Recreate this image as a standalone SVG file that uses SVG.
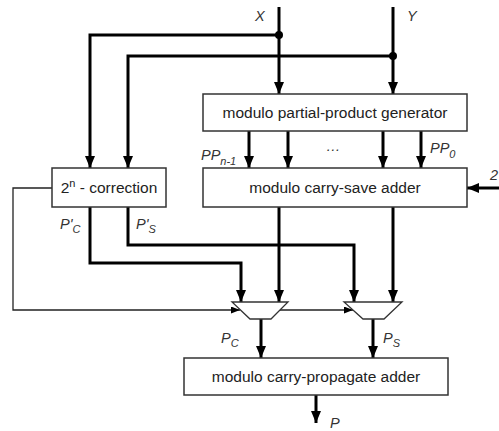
<svg xmlns="http://www.w3.org/2000/svg" width="499" height="431" viewBox="0 0 499 431">
<defs>
<style>
.box{fill:#fff;stroke:#333;stroke-width:1.5}
.w{fill:none;stroke:#000;stroke-width:3}
.t{fill:none;stroke:#222;stroke-width:1.3}
.mux{fill:#fff;stroke:#333;stroke-width:1.3}
.lbl{font-family:"Liberation Sans",Arial,sans-serif;font-size:15.5px;fill:#222;text-anchor:middle}
.it{font-family:"Liberation Sans",Arial,sans-serif;font-size:14.5px;font-style:italic;fill:#333}
.sub{font-size:11px}
</style>
<marker id="ah" markerUnits="userSpaceOnUse" viewBox="0 0 12 10" refX="12" refY="5" markerWidth="12" markerHeight="10" orient="auto"><path d="M0,0L12,5L0,10z" fill="#000"/></marker>
<marker id="as" markerUnits="userSpaceOnUse" viewBox="0 0 9 7" refX="9" refY="3.5" markerWidth="9" markerHeight="7" orient="auto"><path d="M0,0L9,3.5L0,7z" fill="#000"/></marker>
</defs>
<rect width="499" height="431" fill="#fff"/>
<g id="connectors">
<path class="w" d="M279,7V94" marker-end="url(#ah)"/>
<path class="w" d="M393,7V94" marker-end="url(#ah)"/>
<path class="w" d="M279,35H90V168" marker-end="url(#ah)"/>
<path class="w" d="M393,56H128V168" marker-end="url(#ah)"/>
<circle cx="279" cy="35" r="4" fill="#000"/>
<circle cx="393" cy="56" r="4" fill="#000"/>
<path class="w" d="M249,131V168" marker-end="url(#ah)"/>
<path class="w" d="M288,131V168" marker-end="url(#ah)"/>
<path class="w" d="M383,131V168" marker-end="url(#ah)"/>
<path class="w" d="M421,131V168" marker-end="url(#ah)"/>
<path class="w" d="M499,188H467" marker-end="url(#ah)"/>
<path class="w" d="M279,207V302" marker-end="url(#ah)"/>
<path class="w" d="M393,207V302" marker-end="url(#ah)"/>
<path class="w" d="M90,207V263H241V302" marker-end="url(#ah)"/>
<path class="w" d="M128,207V245H354V302" marker-end="url(#ah)"/>
<path class="t" d="M52,188H13V310H240" marker-end="url(#as)"/>
<path class="t" d="M280,310H353" marker-end="url(#as)"/>
<path class="w" d="M261,319V358" marker-end="url(#ah)"/>
<path class="w" d="M373,319V358" marker-end="url(#ah)"/>
<path class="w" d="M316,395V423" marker-end="url(#ah)"/>
</g>
<g id="ppg"><rect class="box" x="203" y="94" width="264" height="37"/><text class="lbl" x="335" y="118">modulo partial-product generator</text></g>
<g id="csa"><rect class="box" x="203" y="168" width="264" height="39"/><text class="lbl" x="335" y="193">modulo carry-save adder</text></g>
<g id="corr"><rect class="box" x="52" y="168" width="114" height="39"/><text class="lbl" x="109" y="193">2<tspan dy="-6" font-size="11">n</tspan><tspan dy="6"> - correction</tspan></text></g>
<g id="mux1"><path class="mux" d="M232,302H288L271,319H250Z"/></g>
<g id="mux2"><path class="mux" d="M344,302H402L384,319H363Z"/></g>
<g id="cpa"><rect class="box" x="184" y="358" width="264" height="37"/><text class="lbl" x="316" y="382">modulo carry-propagate adder</text></g>
<g id="labels">
<text class="it" x="255" y="21">X</text>
<text class="it" x="407" y="21">Y</text>
<text class="it" x="201" y="160">PP<tspan class="sub" dy="5">n-1</tspan></text>
<text class="it" x="430" y="153">PP<tspan class="sub" dy="5">0</tspan></text>
<text class="it" x="326" y="151" font-style="normal">…</text>
<text class="it" x="60" y="229">P'<tspan class="sub" dy="4">C</tspan></text>
<text class="it" x="136" y="229">P'<tspan class="sub" dy="4">S</tspan></text>
<text class="it" x="221" y="343">P<tspan class="sub" dy="4">C</tspan></text>
<text class="it" x="383" y="343">P<tspan class="sub" dy="4">S</tspan></text>
<text class="it" x="330" y="428">P</text>
<text class="it" x="490" y="180" font-style="normal">2</text>
</g>
</svg>
